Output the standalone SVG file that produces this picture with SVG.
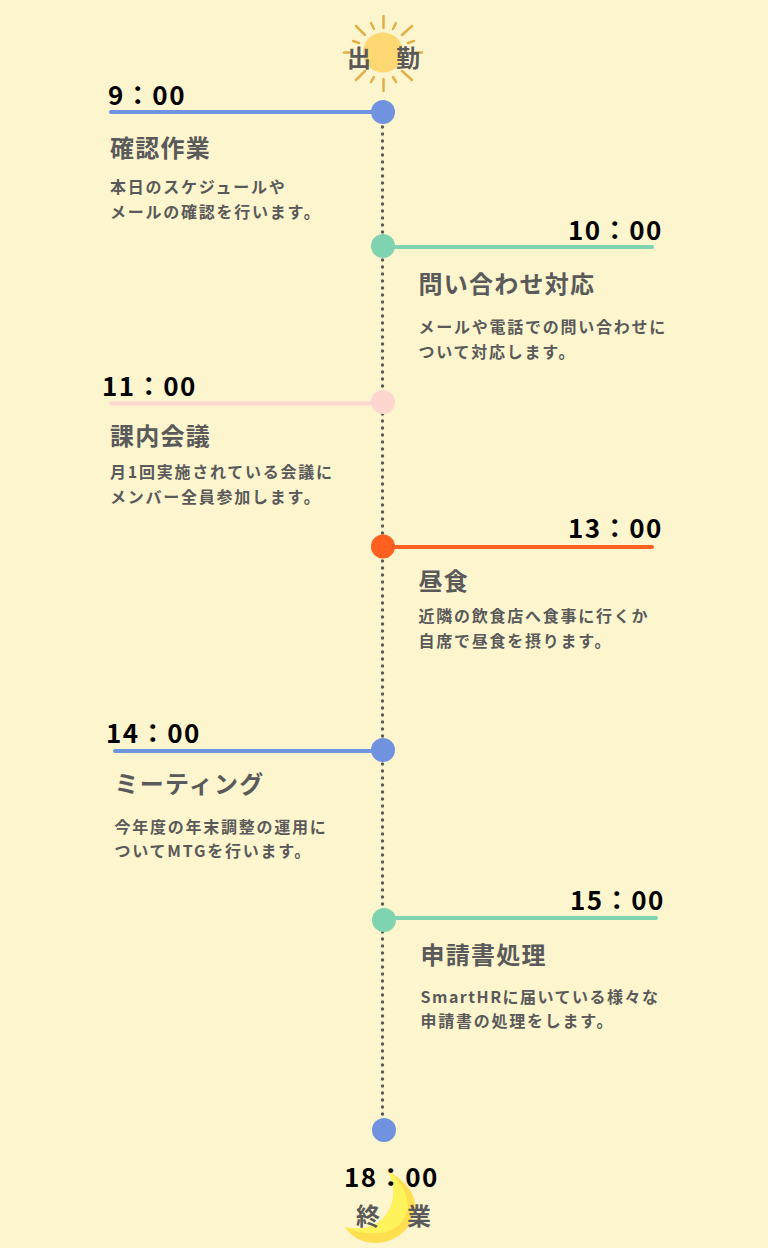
<svg xmlns="http://www.w3.org/2000/svg" width="768" height="1248" viewBox="0 0 768 1248">
<style>
text{font-family:"Noto Sans CJK JP","Noto Sans",sans-serif}
.t{font-size:26px;font-weight:700;fill:#000;letter-spacing:1.5px}
.h{font-size:24px;font-weight:700;fill:#5a5a5a;letter-spacing:1.25px}
.d{font-size:16px;font-weight:700;fill:#5a5a5a;letter-spacing:1.75px}
.e{font-size:24px;font-weight:700;fill:#5a5a5a}
.r{stroke-width:2.5;stroke:#e2b24a;stroke-linecap:round}
</style>
<rect width="768" height="1248" fill="#fdf5ce"/>
<g id="connectors" fill="none" stroke-linecap="round">
<path d="M382.500 127V1116" stroke="#5a5a5a" stroke-width="3.400" stroke-dasharray="0 7"/>
<path d="M111 112H383" stroke="#7093e0" stroke-width="4"/>
<path d="M383 247H652" stroke="#7fd3b0" stroke-width="4"/>
<path d="M111 403.500H383" stroke="#fed6d0" stroke-width="4"/>
<path d="M383 547H652" stroke="#ff5f1f" stroke-width="4"/>
<path d="M115 751H383" stroke="#7093e0" stroke-width="4"/>
<path d="M383 918H656" stroke="#7fd3b0" stroke-width="4"/>
</g>
<g id="sun">
<circle cx="383" cy="52.500" r="20" fill="#ffd873"/>
<path class="r" d="M383.500 16V28M383.500 79V91M356 26L365 35M412 26L402 35M356 80L365 71M412 80L402 71M371 23L374 29M396 23L393 29M371 82L374 77M396 82L393 77M353 41L359 43M414 41L408 43M344 52.500H350M416 52.500H422"/>
<text class="e" x="347" y="67">出</text><text class="e" x="396" y="67">勤</text>
</g>
<g id="n1"><circle cx="383" cy="112" r="12" fill="#7093e0"/>
<text class="t" x="108" y="105">9：00</text><text class="h" x="110" y="157">確認作業</text>
<text class="d" x="110" y="193">本日のスケジュールや</text><text class="d" x="110" y="218">メールの確認を行います。</text></g>
<g id="n2"><circle cx="383" cy="246" r="12" fill="#7fd3b0"/>
<text class="t" x="568" y="240">10：00</text><text class="h" x="418.500" y="293">問い合わせ対応</text>
<text class="d" x="418.500" y="333">メールや電話での問い合わせに</text><text class="d" x="418.500" y="358">ついて対応します。</text></g>
<g id="n3"><circle cx="383" cy="402" r="12" fill="#fed6d0"/>
<text class="t" x="102" y="396">11：00</text><text class="h" x="110" y="445">課内会議</text>
<text class="d" x="110" y="478">月1回実施されている会議に</text><text class="d" x="110" y="503">メンバー全員参加します。</text></g>
<g id="n4"><circle cx="383" cy="546.500" r="12" fill="#ff5f1f"/>
<text class="t" x="568" y="538">13：00</text><text class="h" x="418.500" y="590">昼食</text>
<text class="d" x="418.500" y="622">近隣の飲食店へ食事に行くか</text><text class="d" x="418.500" y="647">自席で昼食を摂ります。</text></g>
<g id="n5"><circle cx="383" cy="750" r="12" fill="#7093e0"/>
<text class="t" x="106" y="743">14：00</text><text class="h" x="114.500" y="793">ミーティング</text>
<text class="d" x="114.500" y="833">今年度の年末調整の運用に</text><text class="d" x="114.500" y="857">ついてMTGを行います。</text></g>
<g id="n6"><circle cx="384" cy="920" r="12" fill="#7fd3b0"/>
<text class="t" x="570" y="910">15：00</text><text class="h" x="420.500" y="964">申請書処理</text>
<text class="d" x="420.500" y="1003" style="letter-spacing:1.5px">SmartHRに届いている様々な</text><text class="d" x="420.500" y="1027">申請書の処理をします。</text></g>
<g id="n7"><circle cx="384" cy="1130" r="12" fill="#7093e0"/>
<path d="M387 1170C400 1178 415 1190 415 1205C415 1228 395 1243 376 1243C360 1243 350 1235 345 1227C362 1231 377 1227 385 1216C396 1203 396 1184 387 1170Z" fill="#ffdf4f"/>
<path d="M387 1170C397 1177 408 1192 408 1207C407 1220 396 1233 377 1233C365 1234 355 1232 345 1227C362 1231 377 1227 385 1216C396 1203 396 1184 387 1170Z" fill="#fff35c"/>
<text class="t" x="344" y="1187">18：00</text><text class="e" x="356" y="1225">終</text><text class="e" x="407" y="1225">業</text></g>
</svg>
